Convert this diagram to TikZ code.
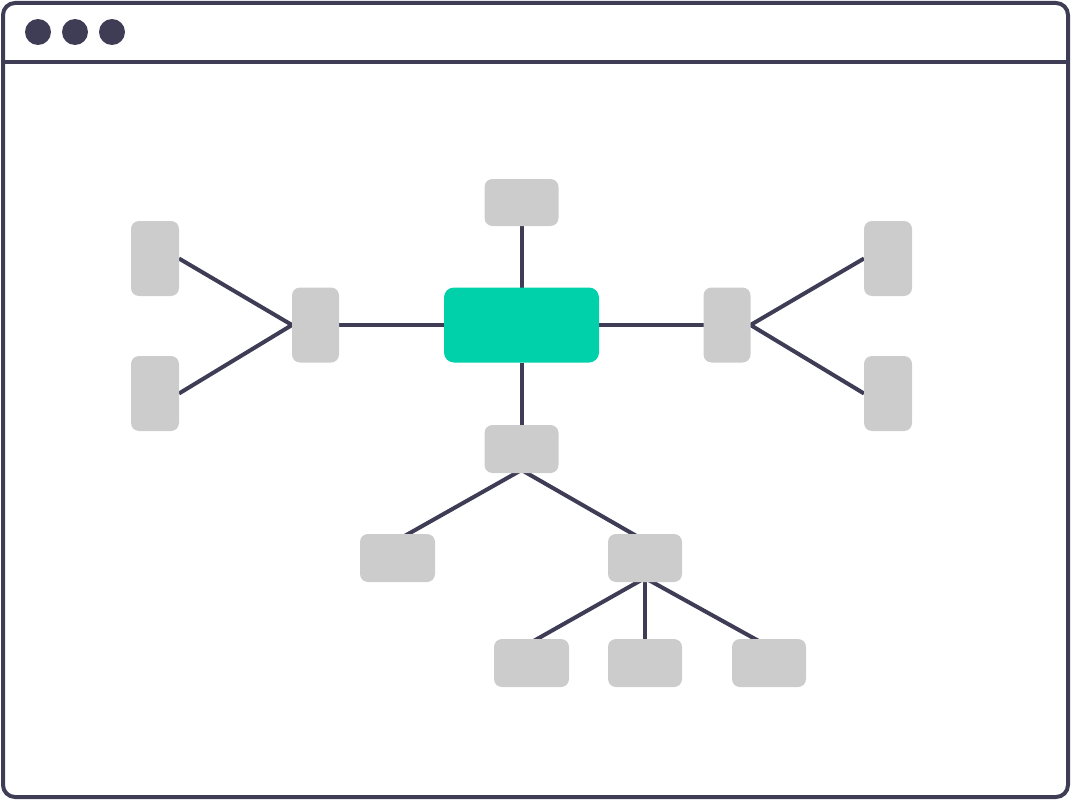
\documentclass[tikz,border=0pt]{standalone}
\usetikzlibrary{backgrounds}
\definecolor{ink}{HTML}{3F3D56}
\definecolor{boxgray}{HTML}{CCCCCC}
\definecolor{hub}{HTML}{00D1AA}
\tikzset{
  gbox/.style={fill=boxgray, rounded corners=8pt, inner sep=0pt, outer sep=0pt},
  hubbox/.style={fill=hub, rounded corners=10pt, inner sep=0pt, outer sep=0pt},
  tallbox/.style={gbox, minimum width=48pt, minimum height=75pt},
  widebox/.style={gbox, minimum width=74pt, minimum height=48pt},
  link/.style={draw=ink, line width=4pt, line join=miter},
  frameline/.style={draw=ink, line width=4pt},
  dotmark/.style={circle, fill=ink, minimum size=26pt, inner sep=0pt}
}
\begin{document}
\begin{tikzpicture}[x=1pt,y=-1pt]
\useasboundingbox (0,0) rectangle (1072,800);
% window frame
\draw[frameline, rounded corners=12pt] (3,3) rectangle (1068,797);
\draw[frameline] (3,62) -- (1068,62);
\node[dotmark] (d1) at (38,32) {};
\node[dotmark] (d2) at (75,32) {};
\node[dotmark] (d3) at (112,32) {};
% nodes
\node[hubbox, minimum width=155pt, minimum height=75pt] (H) at (521.5,325) {};
\node[widebox, minimum height=47pt] (T) at (521.5,202.5) {};
\node[widebox] (B1) at (521.5,449) {};
\node[tallbox, minimum width=47pt] (LM) at (315.5,325) {};
\node[tallbox, minimum width=47pt] (RM) at (727,325) {};
\node[tallbox] (LT) at (155,258.5) {};
\node[tallbox] (LB) at (155,393.5) {};
\node[tallbox] (RT) at (888,258.5) {};
\node[tallbox] (RB) at (888,393.5) {};
\node[widebox, minimum width=75pt] (L) at (397.5,558) {};
\node[widebox] (B2) at (645,558) {};
\node[widebox, minimum width=75pt] (C1) at (531.5,663) {};
\node[widebox] (C2) at (645,663) {};
\node[widebox] (C3) at (769,663) {};
% connectors
\begin{scope}[on background layer]
\draw[link] (T.south) -- (H.north);
\draw[link] (H.south) -- (B1.north);
\draw[link] (LM.east) -- (H.west);
\draw[link] (H.east) -- (RM.west);
\draw[link] (LT.east) -- (LM.west) -- (LB.east);
\draw[link] (RT.west) -- (RM.east) -- (RB.west);
\draw[link] ([yshift=-6pt]L.north) -- ([yshift=3pt]B1.south) -- ([xshift=-1.5pt,yshift=-6pt]B2.north);
\draw[link] ([xshift=-5pt,yshift=-6pt]C1.north) -- ([yshift=4pt]B2.south) -- ([xshift=-3pt,yshift=-6pt]C3.north);
\draw[link] (B2.south) -- (C2.north);
\end{scope}
\end{tikzpicture}
\end{document}
